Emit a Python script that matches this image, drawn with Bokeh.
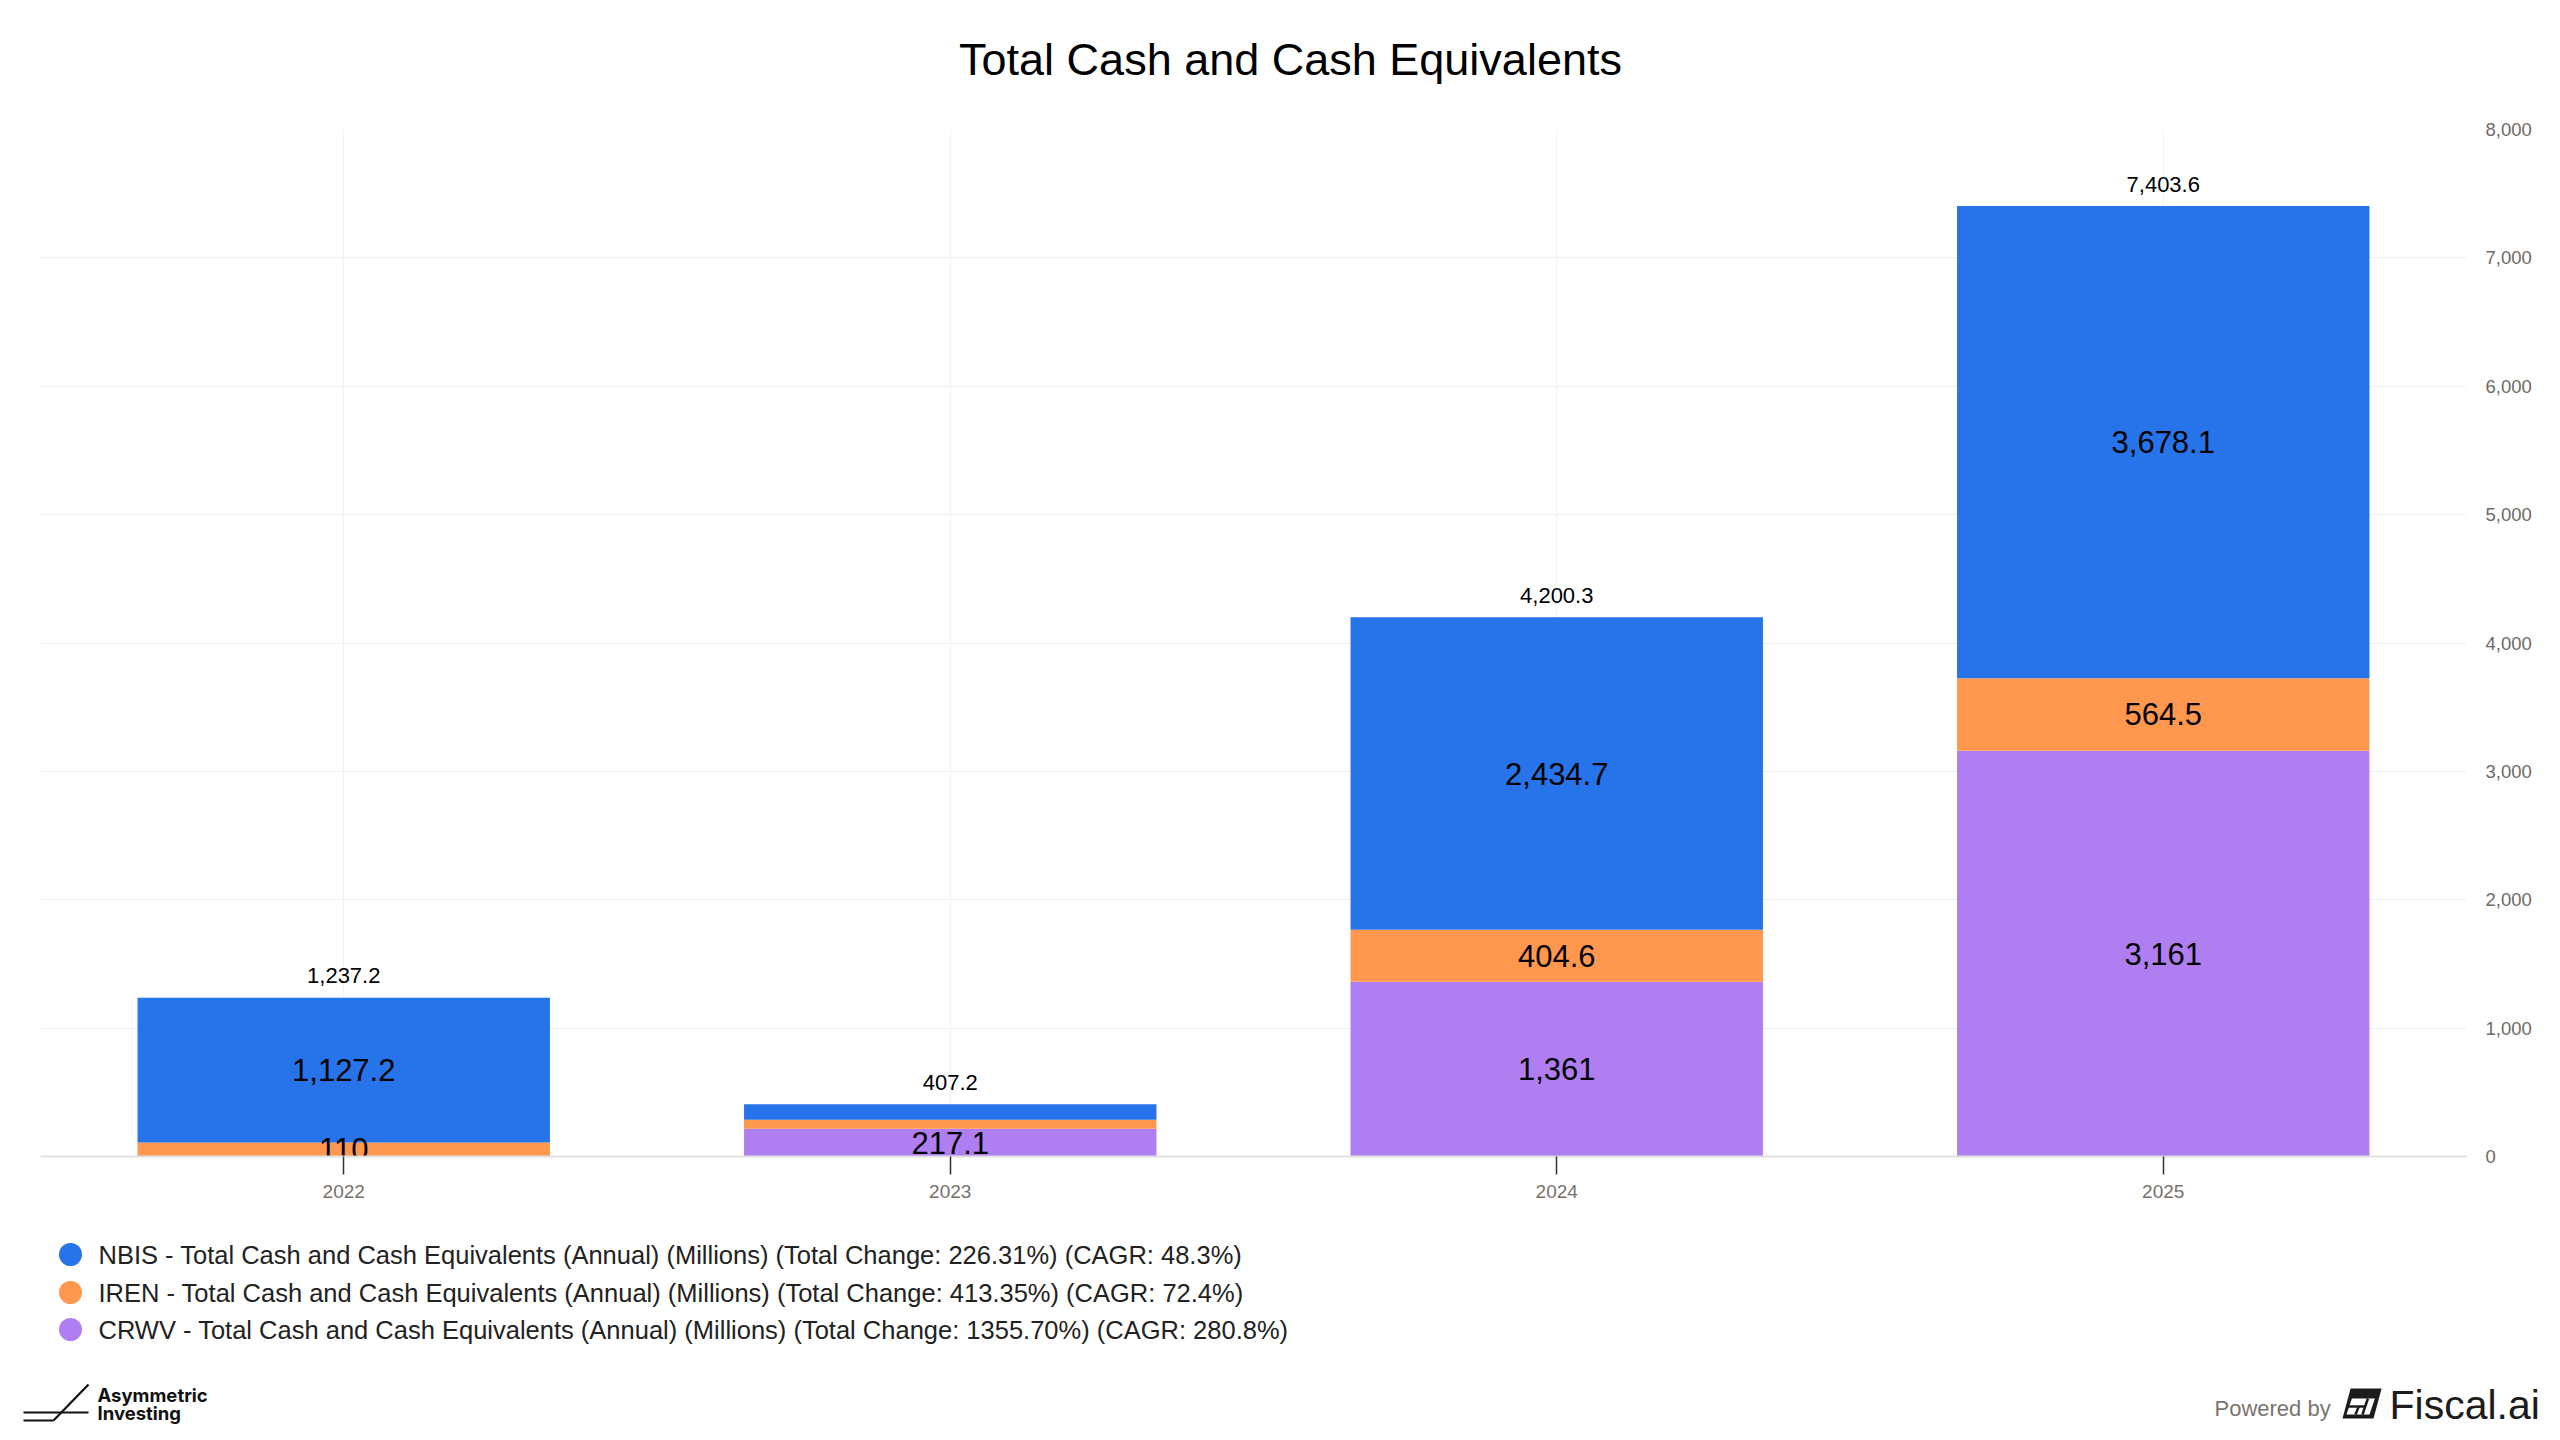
from bokeh.plotting import figure
from bokeh.layouts import column
from bokeh.models import (ColumnDataSource, FactorRange, Range1d, FixedTicker,
                          NumeralTickFormatter)
from bokeh.core.properties import value
from bokeh.embed import file_html
from bokeh.resources import INLINE

# ---------------- data ----------------
years = ["2022", "2023", "2024", "2025"]
nbis = [1127.2, 120.1, 2434.7, 3678.1]
iren = [110.0, 70.0, 404.6, 564.5]
crwv = [0.0, 217.1, 1361.0, 3161.0]
y_ticks = [0, 1000, 2000, 3000, 4000, 5000, 6000, 7000, 8000]
title_text = "Total Cash and Cash Equivalents"
legend_texts = [
    "NBIS - Total Cash and Cash Equivalents (Annual) (Millions) (Total Change: 226.31%) (CAGR: 48.3%)",
    "IREN - Total Cash and Cash Equivalents (Annual) (Millions) (Total Change: 413.35%) (CAGR: 72.4%)",
    "CRWV - Total Cash and Cash Equivalents (Annual) (Millions) (Total Change: 1355.70%) (CAGR: 280.8%)",
]
footer_left = ["Asymmetric", "Investing"]
footer_right = ["Powered by", "Fiscal.ai"]

# ---------------- style / layout ----------------
C_NBIS, C_IREN, C_CRWV = "#2773E9", "#FF984E", "#AF7EF1"
FONT = "Liberation Sans"
W = 2560
HEAD_H = 109
CH_TOP, CH_FRAME, CH_BOT = 20, 1027, 60
CH_H = CH_TOP + CH_FRAME + CH_BOT
FOOT_TOP = HEAD_H + CH_H
FOOT_H = 1440 - FOOT_TOP
FL, FR = 40, 2466
Y_MAX = 8000
PX_PER_UNIT = CH_FRAME / Y_MAX


def fmt(v):
    s = f"{v:,.1f}"
    return s[:-2] if s.endswith(".0") else s


def blank(h, y0):
    f = figure(width=W, height=h, x_range=Range1d(0, W), y_range=Range1d(y0 + h, y0),
               min_border=0, x_axis_location=None, y_axis_location=None,
               toolbar_location=None, output_backend="svg", frame_align=False)
    f.outline_line_color = None
    f.grid.visible = False
    return f


# ---------------- header ----------------
head = blank(HEAD_H, 0)
head.text(x=[1290], y=[59], text=[title_text], text_align="center", text_baseline="middle",
          text_font=value(FONT), text_font_size="45px", text_color="#000000")

# ---------------- chart ----------------
src = ColumnDataSource(data=dict(year=years, NBIS=nbis, IREN=iren, CRWV=crwv))

p = figure(x_range=FactorRange(*years, range_padding=0), y_range=Range1d(0, Y_MAX),
           width=W, height=CH_H, output_backend="svg", toolbar_location=None,
           y_axis_location="right", min_border_left=FL, min_border_right=W - FR,
           min_border_top=CH_TOP, min_border_bottom=CH_BOT, frame_align=False)
p.outline_line_color = None

p.vbar_stack(["CRWV", "IREN", "NBIS"], x="year", width=0.68, source=src,
             color=[C_CRWV, C_IREN, C_NBIS], line_color=None)

lx, ly, lt = [], [], []
tot_x, tot_y, tot_t = [], [], []
for i, yr in enumerate(years):
    segs = [crwv[i], iren[i], nbis[i]]
    total = sum(segs)
    kept_px = [total * PX_PER_UNIT + 22]
    base = 0.0
    for v in segs:
        c = base + v / 2.0
        base += v
        if v <= 0:
            continue
        cpx = c * PX_PER_UNIT
        if all(abs(cpx - k) >= 40 for k in kept_px):
            kept_px.append(cpx)
            lx.append(yr); ly.append(c); lt.append(fmt(v))
    tot_x.append(yr); tot_y.append(total); tot_t.append(fmt(total))

p.text(x=lx, y=ly, text=lt, text_align="center", text_baseline="middle",
       text_font=value(FONT), text_font_size="31px", text_color="#000000")
p.text(x=tot_x, y=tot_y, text=tot_t, y_offset=-22, text_align="center",
       text_baseline="middle", text_font=value(FONT), text_font_size="22px",
       text_color="#000000")

p.xgrid.grid_line_color = "#f2f2f2"
p.ygrid.grid_line_color = "#efefef"
p.ygrid.ticker = FixedTicker(ticks=y_ticks)

xa = p.xaxis[0]
xa.axis_line_color = "#e0e0e0"
xa.axis_line_width = 2
xa.major_tick_out = 18
xa.major_tick_in = 0
xa.major_tick_line_color = "#333333"
xa.major_tick_line_width = 1.5
xa.minor_tick_line_color = None
xa.major_label_text_font = FONT
xa.major_label_text_font_size = "19px"
xa.major_label_text_color = "#77716b"
xa.major_label_standoff = 10

ya = p.yaxis[0]
ya.ticker = FixedTicker(ticks=y_ticks)
ya.formatter = NumeralTickFormatter(format="0,0")
ya.axis_line_color = None
ya.major_tick_line_color = None
ya.minor_tick_line_color = None
ya.major_tick_out = 0
ya.major_tick_in = 0
ya.major_label_standoff = 19
ya.major_label_text_font = FONT
ya.major_label_text_font_size = "18.5px"
ya.major_label_text_color = "#6f6a65"

# ---------------- footer ----------------
foot = blank(FOOT_H, FOOT_TOP)
legend_colors = [C_NBIS, C_IREN, C_CRWV]
legend_y = [1254, 1292, 1329]
foot.scatter(x=[70] * 3, y=legend_y, size=23, color=legend_colors, line_color=None)
foot.text(x=[98] * 3, y=legend_y, text=legend_texts, text_align="left",
          text_baseline="middle", text_font=value(FONT), text_font_size="25.5px",
          text_color="#222222")

# Asymmetric Investing mark
foot.segment(x0=[23, 23, 53], y0=[1412, 1420, 1420], x1=[88, 53, 88], y1=[1412, 1420, 1384],
             line_color="#111111", line_width=2.2)
foot.text(x=[97, 97], y=[1394, 1412], text=footer_left, text_align="left",
          text_baseline="middle", text_font=value("Inter"), text_font_style="bold",
          text_font_size="18.5px", text_color="#111111")

# Powered by Fiscal.ai
foot.text(x=[2214], y=[1408], text=[footer_right[0]], text_align="left",
          text_baseline="middle", text_font=value(FONT), text_font_size="22px",
          text_color="#7b746d")


def sl(x, y):
    return x + (1418 - y) * 0.27


outer = [(2342, 1418), (2373, 1418), (sl(2373, 1388), 1388), (sl(2342, 1388), 1388)]
inner = [(2346, 1414), (2369, 1414), (sl(2369, 1398), 1398), (sl(2346, 1398), 1398)]
foot.patch([q[0] for q in outer], [q[1] for q in outer], color="#1c1c1c", line_color=None)
foot.patch([q[0] for q in inner], [q[1] for q in inner], color="#ffffff", line_color=None)
foot.segment(x0=[2346, 2355, 2362], y0=[1406, 1414, 1414],
             x1=[sl(2362, 1406), sl(2355, 1406), sl(2362, 1398)], y1=[1406, 1406, 1398],
             line_color="#1c1c1c", line_width=2.5)
foot.text(x=[2389], y=[1404], text=[footer_right[1]], text_align="left",
          text_baseline="middle", text_font=value(FONT), text_font_size="41px",
          text_color="#1c1c1c")

layout = column(head, p, foot, spacing=0)
open("out.html", "w").write(file_html(layout, INLINE))
